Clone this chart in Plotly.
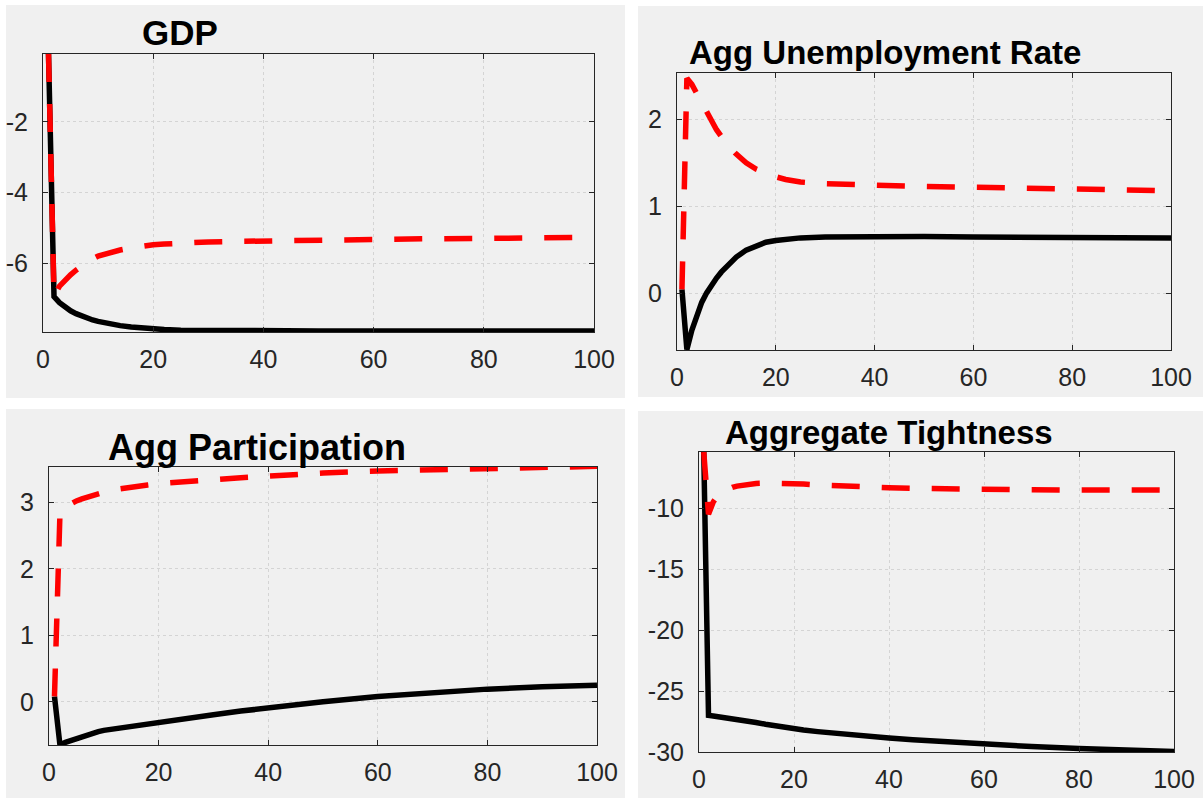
import plotly.graph_objects as go

W, H = 1203, 798

# ---------------- data ----------------
T = [1, 2, 3, 4, 5, 6, 7, 8, 9, 10, 12, 14, 16, 18, 20, 22, 25, 30, 35, 40, 45, 50, 60, 70, 80, 90, 100]

gdp_black = [-0.08, -6.95, -7.12, -7.25, -7.35, -7.43, -7.50, -7.56, -7.61, -7.65, -7.72, -7.77, -7.81, -7.84,
             -7.86, -7.88, -7.90, -7.91, -7.92, -7.92, -7.92, -7.92, -7.92, -7.92, -7.92, -7.92, -7.92]
gdp_red = [-0.08, -6.93, -6.65, -6.47, -6.33, -6.20, -6.08, -5.97, -5.88, -5.80, -5.70, -5.63, -5.57, -5.52,
           -5.48, -5.46, -5.43, -5.40, -5.385, -5.37, -5.36, -5.35, -5.33, -5.31, -5.30, -5.28, -5.27]

unemp_black = [0.05, -0.64, -0.42, -0.24, -0.10, 0.01, 0.10, 0.18, 0.25, 0.31, 0.42, 0.50, 0.55, 0.59,
               0.61, 0.625, 0.64, 0.65, 0.653, 0.655, 0.655, 0.655, 0.65, 0.65, 0.645, 0.645, 0.64]
unemp_red = [0.05, 2.47, 2.40, 2.29, 2.18, 2.07, 1.97, 1.88, 1.80, 1.72, 1.60, 1.50, 1.43, 1.38,
             1.34, 1.31, 1.28, 1.26, 1.25, 1.24, 1.235, 1.23, 1.22, 1.21, 1.20, 1.19, 1.18]

part_black = [0.08, -0.65, -0.61, -0.58, -0.55, -0.52, -0.50, -0.475, -0.45, -0.43, -0.405, -0.38, -0.355, -0.33,
              -0.305, -0.28, -0.25, -0.195, -0.14, -0.09, -0.045, 0.0, 0.08, 0.14, 0.19, 0.225, 0.25]
part_red = [0.08, 2.83, 2.93, 2.98, 3.02, 3.05, 3.08, 3.10, 3.125, 3.15, 3.19, 3.22, 3.24, 3.26,
            3.28, 3.295, 3.31, 3.34, 3.37, 3.40, 3.42, 3.44, 3.47, 3.49, 3.51, 3.525, 3.54]

tight_black = [-5.4, -27.0, -27.05, -27.1, -27.15, -27.2, -27.25, -27.3, -27.37, -27.44, -27.58, -27.72, -27.86,
               -27.98, -28.1, -28.2, -28.33, -28.53, -28.7, -28.86, -29.0, -29.12, -29.35, -29.55, -29.72,
               -29.85, -29.95]
tight_red = [-5.4, -10.5, -9.5, -8.95, -8.65, -8.45, -8.3, -8.2, -8.12, -8.05, -7.98, -7.95, -7.95, -7.97,
             -8.0, -8.03, -8.1, -8.2, -8.27, -8.33, -8.38, -8.42, -8.48, -8.5, -8.52, -8.52, -8.52]

titles = ["GDP", "Agg Unemployment Rate", "Agg Participation", "Aggregate Tightness"]
x_ticks = [0, 20, 40, 60, 80, 100]
x_ticktext = ["0", "20", "40", "60", "80", "100"]
y_ticks = [[-6, -4, -2], [0, 1, 2], [0, 1, 2, 3], [-30, -25, -20, -15, -10]]
y_ticktext = [["-6", "-4", "-2"], ["0", "1", "2"], ["0", "1", "2", "3"],
              ["-30", "-25", "-20", "-15", "-10"]]
y_ranges = [[-7.95, -0.08], [-0.645, 2.53], [-0.65, 3.53], [-30, -5.4]]

series = [(gdp_black, gdp_red), (unemp_black, unemp_red),
          (part_black, part_red), (tight_black, tight_red)]

# ---------------- layout geometry (pixels of the 1203x798 frame) ----------------
plot_boxes = [(43, 594, 54, 332), (677, 1171, 73, 350), (49, 597, 467, 745), (699, 1174, 452, 752)]
panels = [(6, 625, 5, 398), (638, 1203, 6, 397), (6, 625, 409, 798), (638, 1203, 411, 798)]
title_pos = [(180, 33), (885, 53), (257, 447), (889, 432)]
title_sizes = [35, 33, 36, 33]


def px(x):
    return x / W


def py(y):
    return 1 - y / H


fig = go.Figure()
layout = dict(
    width=W, height=H, autosize=False,
    margin=dict(l=0, r=0, t=0, b=0, pad=0, autoexpand=False),
    paper_bgcolor="white", plot_bgcolor="white",
    showlegend=False,
    shapes=[], annotations=[],
)

font_tick = dict(family="Liberation Sans, Arial, sans-serif", size=25, color="#262626")

for i in range(4):
    xa = "xaxis" if i == 0 else f"xaxis{i+1}"
    ya = "yaxis" if i == 0 else f"yaxis{i+1}"
    xr = "x" if i == 0 else f"x{i+1}"
    yr = "y" if i == 0 else f"y{i+1}"
    l, r, t, b = plot_boxes[i]
    blk, red = series[i]
    fig.add_trace(go.Scatter(x=T, y=blk, mode="lines", xaxis=xr, yaxis=yr,
                             line=dict(color="black", width=5.5)))
    fig.add_trace(go.Scatter(x=T, y=red, mode="lines", xaxis=xr, yaxis=yr,
                             line=dict(color="#ff0000", width=5.5, dash="28px,22px")))
    common = dict(showline=True, mirror="ticks", linecolor="#262626", linewidth=1,
                  ticks="inside", ticklen=5, tickcolor="#262626",
                  showgrid=True, gridcolor="#d4d4d4", griddash="dot", gridwidth=1,
                  zeroline=False, tickfont=font_tick, tickmode="array", automargin=False)
    layout[xa] = dict(domain=[px(l), px(r)], range=[0, 100], tickvals=x_ticks, ticktext=x_ticktext,
                      anchor=yr, ticklabelstandoff=5, **common)
    layout[ya] = dict(domain=[py(b), py(t)], range=y_ranges[i], tickvals=y_ticks[i],
                      ticktext=y_ticktext[i], anchor=xr, ticklabelstandoff=9, **common)
    pl, pr, pt, pb = panels[i]
    layout["shapes"].append(dict(type="rect", xref="paper", yref="paper",
                                 x0=px(pl), x1=px(pr), y0=py(pb), y1=py(pt),
                                 fillcolor="#f0f0f0", line=dict(width=0), layer="below"))
    cx, cy = title_pos[i]
    layout["annotations"].append(dict(text=f"<b>{titles[i]}</b>", xref="paper", yref="paper",
                                      x=px(cx), y=py(cy), xanchor="center", yanchor="middle",
                                      showarrow=False,
                                      font=dict(family="Liberation Sans, Arial, sans-serif",
                                                size=title_sizes[i], color="black")))

fig.update_layout(**layout)
fig.write_html(
    "out.html",
    config={"displayModeBar": False},
    post_script=("document.documentElement.style.margin='0';document.body.style.margin='0';"
                 "document.body.style.overflow='hidden';"),
)
